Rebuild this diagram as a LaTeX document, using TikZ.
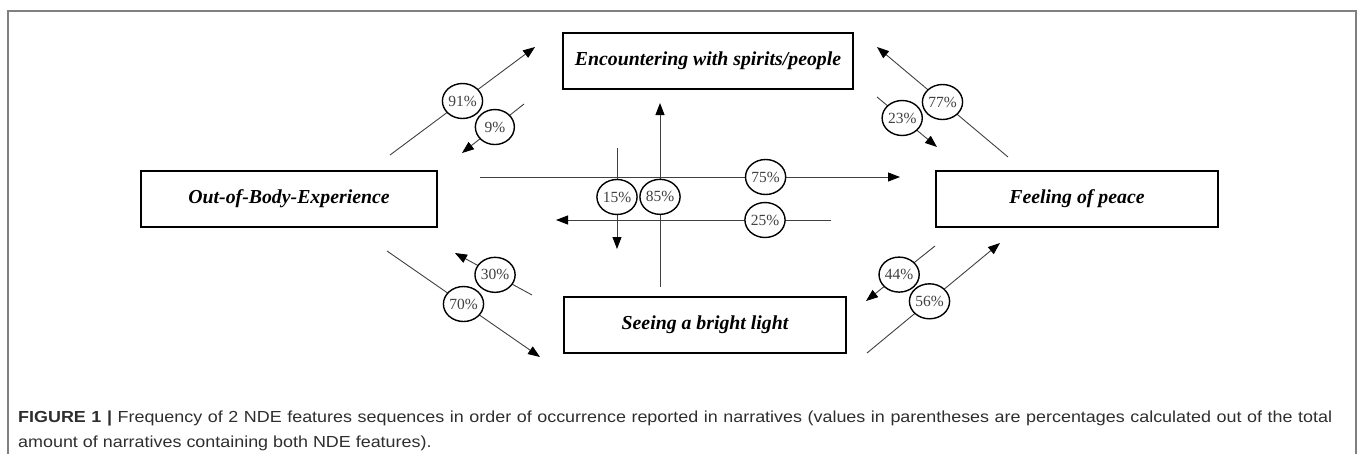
\documentclass[tikz,border=0pt]{standalone}
\usepackage{fontspec}
\setmainfont{Liberation Serif}
\setsansfont{Liberation Sans}
\newfontfamily\capfont{Liberation Sans}[FakeStretch=1.12]
\usetikzlibrary{shapes.geometric,arrows.meta}
\begin{document}
\begin{tikzpicture}[x=1pt,y=-1pt,
  box/.style={draw, line width=1.5pt, minimum height=56pt, inner sep=0pt,
    font=\fontsize{19.8}{22}\selectfont\bfseries\itshape},
  pct/.style={ellipse, draw, line width=1.4pt, fill=white, minimum width=39pt,
    minimum height=35pt, inner sep=0pt, font=\fontsize{15.5}{17}\selectfont, text=black!75},
  conn/.style={line width=0.9pt, draw=black!75, -{Triangle[length=12pt,width=9pt,color=black]}},
  frame/.style={draw=black!50, line width=1.6pt},
  captext/.style={anchor=north west, inner sep=0pt, text width=1314pt, align=justify,
    font=\fontsize{16}{25}\capfont, text=black!82}
]
\useasboundingbox (0,0) rectangle (1357,453);
\draw[frame] (8,470) -- (8,11) -- (1356,11) -- (1356,470);

% boxes
\node[box, minimum width=290pt] (enc) at (708,61) {Encountering with spirits/people};
\node[box, minimum width=296pt] (obe) at (289,199) {Out-of-Body-Experience};
\node[box, minimum width=282pt] (fop) at (1077,199) {Feeling of peace};
\node[box, minimum width=282pt] (see) at (705,325) {Seeing a bright light};

% connector end points
\coordinate (s91) at (390,155); \coordinate (e91) at (535,47);
\coordinate (s9)  at (524,104); \coordinate (e9)  at (462,153);
\coordinate (s77) at (1008,157); \coordinate (e77) at (877,47);
\coordinate (s23) at (877,97);  \coordinate (e23) at (937,147);
\coordinate (s30) at (532,295); \coordinate (e30) at (455,253);
\coordinate (s70) at (387,251); \coordinate (e70) at (540,357);
\coordinate (s44) at (935,246); \coordinate (e44) at (866,301);
\coordinate (s56) at (867,353); \coordinate (e56) at (1000,243);
\coordinate (s75) at (480,177); \coordinate (e75) at (900,177);
\coordinate (s25) at (831,220); \coordinate (e25) at (556,220);
\coordinate (s85) at (660,287); \coordinate (e85) at (660,103);
\coordinate (s15) at (617,148); \coordinate (e15) at (617,249);

% connectors
\foreach \k in {91,9,77,23,30,70,44,56,75,25,85,15}
  \draw[conn] (s\k) -- (e\k);

% percentage labels
\path (s91) -- (e91) node[pct, pos=0.50] (c91) {91\%};
\path (s9)  -- (e9)  node[pct, pos=0.47] (c9)  {9\%};
\path (s77) -- (e77) node[pct, pos=0.50] (c77) {77\%};
\path (s23) -- (e23) node[pct, pos=0.42] (c23) {23\%};
\path (s30) -- (e30) node[pct, pos=0.48] (c30) {30\%};
\path (s70) -- (e70) node[pct, pos=0.50] (c70) {70\%};
\path (s44) -- (e44) node[pct, pos=0.52] (c44) {44\%};
\path (s56) -- (e56) node[pct, pos=0.47] (c56) {56\%};
\path (s75) -- (e75) node[pct, pos=0.68] (c75) {75\%};
\path (s25) -- (e25) node[pct, pos=0.24] (c25) {25\%};
\path (s85) -- (e85) node[pct, pos=0.49] (c85) {85\%};
\path (s15) -- (e15) node[pct, pos=0.485] (c15) {15\%};

% caption
\node[captext] (cap) at (18,410.5) {\tolerance=10000\hbadness=10000
  {\bfseries FIGURE 1 |} Frequency of 2 NDE features sequences in order of occurrence reported in narratives (values in parentheses are percentages calculated out of the total\linebreak
  amount of narratives containing both NDE features).};
\end{tikzpicture}
\end{document}
